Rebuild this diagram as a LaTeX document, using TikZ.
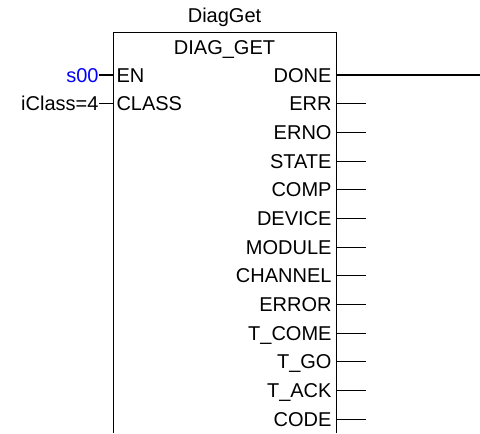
\documentclass[tikz,border=0pt]{standalone}
\usepackage{fontspec}
\setmainfont{Liberation Sans}
\definecolor{varblue}{RGB}{0,0,255}
\begin{document}
\begin{tikzpicture}[x=0.5pt,y=-0.5pt,line width=0.5pt,
    every node/.style={font=\fontsize{10}{12}\selectfont, inner sep=0pt},
    pintext/.style={text height=7.2pt, text depth=0pt},
    outpin/.style={pintext, anchor=east},
    inpin/.style={pintext, anchor=west},
    invar/.style={pintext, anchor=east}]
  \useasboundingbox (0,0) rectangle (480,433);
  % function block frame (open at the bottom)
  \coordinate (fb-nw) at (113,33);
  \coordinate (fb-ne) at (336,33);
  \coordinate (fb-sw) at (113,433);
  \coordinate (fb-se) at (336,433);
  \draw (fb-sw) -- (fb-nw) -- (fb-ne) -- (fb-se);
  \node (inst) at (224.5,17) {DiagGet};
  \node[pintext] (type) at (224.5,47) {DIAG\_GET};
  % inputs
  \foreach \name/\lbl/\val/\col [count=\i] in {en/EN/s00/varblue, class/CLASS/iClass=4/black}
  {
    \pgfmathsetmacro\yy{75+(\i-1)*28.67}
    \node[inpin] (in-\name) at (116,\yy) {\lbl};
    \coordinate (pin-\name) at (113,\yy);
    \node[invar, text=\col] (var-\name) at (99,\yy) {\val};
    \draw (var-\name) -- (pin-\name);
  }
  % outputs
  \foreach \name/\lbl/\xend [count=\i] in {done/DONE/480, err/ERR/366, erno/ERNO/366,
      state/STATE/366, comp/COMP/366, device/DEVICE/366, module/MODULE/366,
      channel/CHANNEL/366, error/ERROR/366, tcome/T\_COME/366, tgo/T\_GO/366,
      tack/T\_ACK/366, code/CODE/366}
  {
    \pgfmathsetmacro\yy{75+(\i-1)*28.67}
    \node[outpin] (out-\name) at (332,\yy) {\lbl};
    \coordinate (pin-\name) at (336,\yy);
    \coordinate (end-\name) at (\xend,\yy);
    \draw (pin-\name) -- (end-\name);
  }
\end{tikzpicture}
\end{document}
